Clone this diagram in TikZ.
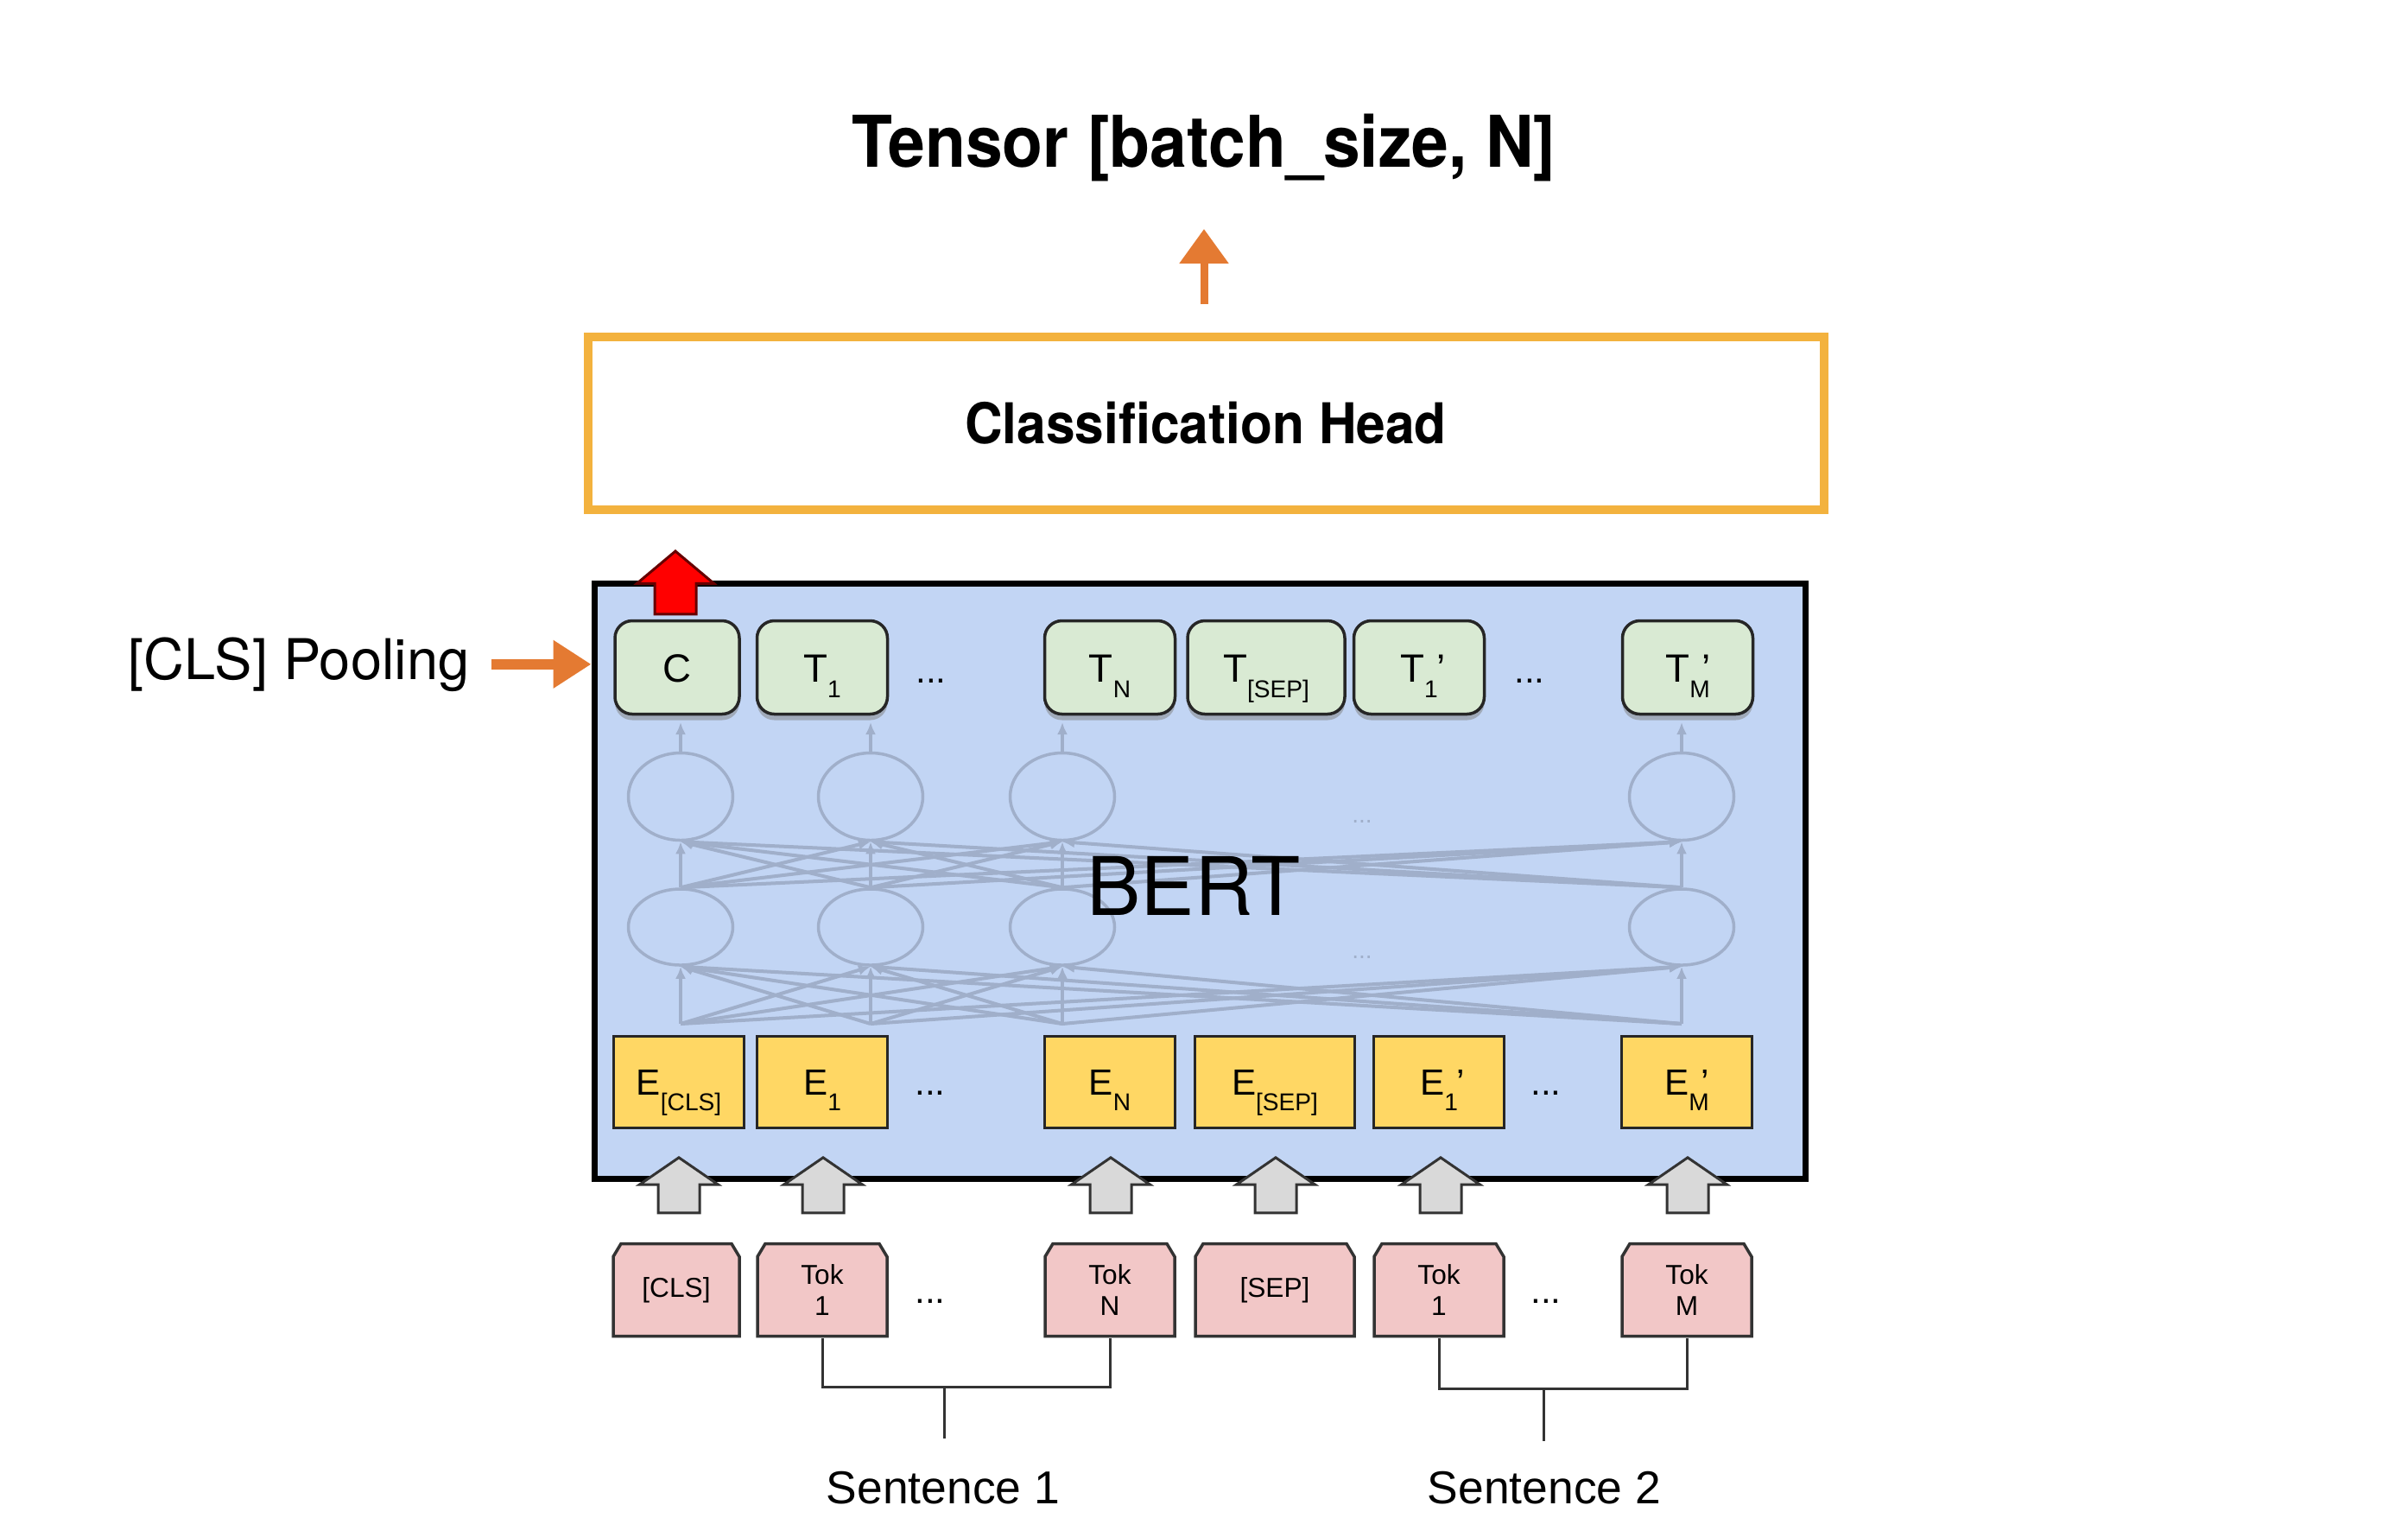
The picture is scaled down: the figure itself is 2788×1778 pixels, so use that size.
\documentclass[tikz,border=0pt]{standalone}
\usepackage{fontspec}
\setmainfont{TeX Gyre Heros}
\newfontfamily\arialfont{Liberation Sans}
\newfontfamily\headfont[FakeStretch=0.93]{TeX Gyre Heros}
\usetikzlibrary{arrows.meta,shapes.arrows,shapes.geometric,shadows}

\definecolor{bertblue}{RGB}{194,213,244}
\definecolor{outgreen}{RGB}{217,234,211}
\definecolor{embyellow}{RGB}{255,215,100}
\definecolor{tokpink}{RGB}{242,199,199}
\definecolor{upgray}{RGB}{217,217,217}
\definecolor{headorange}{RGB}{243,178,62}
\definecolor{clsorange}{RGB}{228,122,50}
\definecolor{netgray}{RGB}{160,175,202}

\newcommand{\subsz}{\fontsize{8}{9}\selectfont}
\newcommand{\idx}[3]{#1\rlap{\raisebox{-1.8mm}{\subsz #2}}\rlap{\hspace{4pt}#3}\hphantom{\subsz #2}}

\begin{document}
\begin{tikzpicture}[%
      x=0.1mm, y=-0.1mm,
      every node/.style={inner sep=0pt, font=\arialfont\fontsize{12}{14}\selectfont},
      tbox/.style={draw=black!85, line width=0.35mm, rounded corners=2mm, fill=outgreen,
                   minimum width=15.1mm, minimum height=10.8mm,
                   text height=3.3mm, text depth=0pt,
                   font=\arialfont\fontsize{13}{15}\selectfont,
                   drop shadow={shadow xshift=0mm, shadow yshift=-0.7mm, opacity=0.5}},
      ebox/.style={draw=black!85, line width=0.35mm, fill=embyellow,
                   minimum width=15.1mm, minimum height=10.6mm,
                   text height=3mm, text depth=0pt},
      tokbox/.style={fill=white, align=center, minimum width=15.4mm, minimum height=11.1mm,
                     font=\arialfont\fontsize{9}{10.5}\selectfont,
                     path picture={
                       \path[fill=tokpink, draw=black!80, line width=0.35mm]
                         ([shift={(.2mm,.2mm)}]path picture bounding box.south west)
                         -- ([shift={(-.2mm,.2mm)}]path picture bounding box.south east)
                         -- ([shift={(-.2mm,-1.7mm)}]path picture bounding box.north east)
                         -- ([shift={(-1.1mm,-.2mm)}]path picture bounding box.north east)
                         -- ([shift={(1.1mm,-.2mm)}]path picture bounding box.north west)
                         -- ([shift={(.2mm,-1.7mm)}]path picture bounding box.north west)
                         -- cycle;}},
      gapdots/.style={text height=3mm, text depth=0pt},
      upbox/.style={single arrow, rotate=90, anchor=tip, draw=black!80, line width=0.3mm,
                    fill=upgray, inner xsep=0pt, inner ysep=2.25mm, minimum width=0pt,
                    minimum height=6.4mm, single arrow head extend=2.15mm,
                    single arrow tip angle=111},
      poolarrow/.style={upbox, fill=red, draw=red!40!black,
                        minimum height=7.3mm, single arrow head extend=2.05mm,
                        single arrow tip angle=100},
      neuron/.style={ellipse, draw=netgray, line width=0.35mm,
                     minimum width=12.1mm, minimum height=10.1mm},
      netline/.style={draw=netgray, line width=0.4mm, -{Latex[length=1.4mm,width=1.2mm]}},
      clsarrow/.style={draw=clsorange, line width=0.9mm, -{Triangle[length=4mm,width=5.5mm]}},
      bracket/.style={draw=black!80, line width=0.3mm},
      sentence/.style={anchor=base, font=\arialfont\fontsize{15.2}{18}\selectfont}
    ]
    \useasboundingbox (0,0) rectangle (2788,1778);

    \node[anchor=base, font=\headfont\bfseries\fontsize{23.5}{28}\selectfont]
      (title) at (1394,193) {Tensor [batch\_size, N]};
    \node[draw=headorange, line width=1mm, minimum width=143.1mm, minimum height=20mm,
          font=\headfont\bfseries\fontsize{18.5}{22}\selectfont]
      (head) at (1396,490) {Classification Head};
    \coordinate (logits) at (1394,265);
    \draw[clsarrow, shorten <=3.3mm] (head.north -| logits) -- (logits);

    \node[draw=black, line width=0.7mm, fill=bertblue, minimum width=140.2mm,
          minimum height=68.9mm] (bert) at (1389,1019.5) {};

    \node[neuron] (nu1) at (788,922) {};
    \node[neuron] (nu2) at (1008,922) {};
    \node[neuron] (nu3) at (1230,922) {};
    \node[neuron] (nu4) at (1947,922) {};
    \node[neuron, minimum height=8.8mm] (nl1) at (788,1073) {};
    \node[neuron, minimum height=8.8mm] (nl2) at (1008,1073) {};
    \node[neuron, minimum height=8.8mm] (nl3) at (1230,1073) {};
    \node[neuron, minimum height=8.8mm] (nl4) at (1947,1073) {};
    \coordinate (in1) at (788,1185);  \coordinate (out1) at (788,836);
    \coordinate (in2) at (1008,1185); \coordinate (out2) at (1008,836);
    \coordinate (in3) at (1230,1185); \coordinate (out3) at (1230,836);
    \coordinate (in4) at (1947,1185); \coordinate (out4) at (1947,836);
    \foreach \i in {1,...,4} {
      \draw[netline] (nu\i.north) -- (out\i);
      \foreach \j in {1,...,4} {
        \draw[netline] (in\i) -- (nl\j.south);
        \draw[netline] (nl\i.north) -- (nu\j.south);
      }
    }
    \node[text=netgray, font=\arialfont\fontsize{8}{9}\selectfont] (ndots1) at (1577,951) {...};
    \node[text=netgray, font=\arialfont\fontsize{8}{9}\selectfont] (ndots2) at (1577,1108) {...};
    \node[font=\fontsize{26.6}{30}\selectfont] (berttext) at (1382,1025) {BERT};

    \node[tbox, minimum width=14.4mm] (c) at (784,772.5) {C};
    \node[tbox] (t1) at (952,772.5) {\idx{T}{1}{}};
    \node[gapdots] (tdots1) at (1078,775) {...};
    \node[tbox] (tn) at (1285,772.5) {\idx{T}{N}{}};
    \node[tbox, minimum width=18.2mm] (tsep) at (1466,772.5) {\idx{T}{[SEP]}{}};
    \node[tbox] (t1b) at (1643,772.5) {\idx{T}{1}{’}};
    \node[gapdots] (tdots2) at (1771,775) {...};
    \node[tbox] (tmb) at (1954,772.5) {\idx{T}{M}{’}};

    \node[ebox] (ecls) at (786,1252.5) {\idx{E}{[CLS]}{}};
    \node[ebox] (e1) at (952,1252.5) {\idx{E}{1}{}};
    \node[gapdots] (edots1) at (1077,1252.5) {...};
    \node[ebox] (en) at (1285,1252.5) {\idx{E}{N}{}};
    \node[ebox, minimum width=18.5mm] (esep) at (1476,1252.5) {\idx{E}{[SEP]}{}};
    \node[ebox] (e1b) at (1666,1252.5) {\idx{E}{1}{’}};
    \node[gapdots] (edots2) at (1790,1252.5) {...};
    \node[ebox] (emb) at (1953,1252.5) {\idx{E}{M}{’}};

    \node[poolarrow] (clsup) at (782,636) {};
    \node[upbox] (up1) at (786,1338) {};
    \node[upbox] (up2) at (953,1338) {};
    \node[upbox] (up3) at (1286,1338) {};
    \node[upbox] (up4) at (1477,1338) {};
    \node[upbox] (up5) at (1668,1338) {};
    \node[upbox] (up6) at (1954,1338) {};

    \node[tokbox, minimum width=15mm] (tokcls) at (783,1493) {[CLS]};
    \node[tokbox] (tok1) at (952,1493) {Tok\\1};
    \node[gapdots] (tokdots1) at (1077,1493) {...};
    \node[tokbox] (tokn) at (1285,1493) {Tok\\N};
    \node[tokbox, minimum width=18.8mm] (toksep) at (1476,1493) {[SEP]};
    \node[tokbox] (tok1b) at (1666,1493) {Tok\\1};
    \node[gapdots] (tokdots2) at (1790,1493) {...};
    \node[tokbox] (tokmb) at (1953,1493) {Tok\\M};

    \coordinate (br1) at (1093,1605); \coordinate (stem1) at (1093,1665);
    \coordinate (br2) at (1787,1607); \coordinate (stem2) at (1787,1668);
    \draw[bracket] (tok1.south) |- (br1) -| (tokn.south);
    \draw[bracket] (br1) -- (stem1);
    \draw[bracket] (tok1b.south) |- (br2) -| (tokmb.south);
    \draw[bracket] (br2) -- (stem2);
    \node[sentence] (s1) at (1092,1740) {Sentence 1};
    \node[sentence] (s2) at (1788,1740) {Sentence 2};

    \node[anchor=base west, font=\fontsize{18.5}{22}\selectfont] (pool) at (148,786) {[CLS] Pooling};
    \draw[clsarrow, line width=1.2mm, -{Triangle[length=4.4mm,width=5.3mm]}, shorten <=2.5mm]
      (pool.east) -- (pool.east -| bert.west);
\end{tikzpicture}
\end{document}
